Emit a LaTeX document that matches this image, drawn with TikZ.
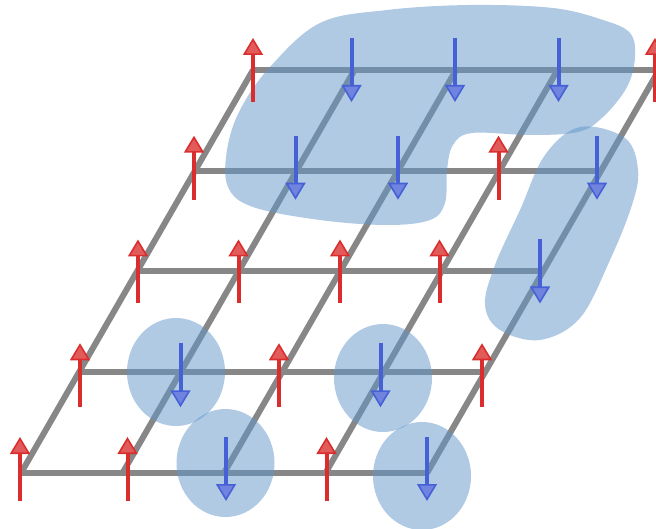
\documentclass[tikz,border=0pt]{standalone}
\usetikzlibrary{arrows.meta}
\definecolor{gridc}{RGB}{135,135,135}
\definecolor{spinred}{RGB}{218,45,45}
\definecolor{spinblue}{RGB}{70,96,214}
\definecolor{blobc}{RGB}{97,149,201}
\begin{document}
\begin{tikzpicture}[x=1pt,y=-1pt,
  gridline/.style={gridc, line width=6pt},
  blob/.style={fill=blobc, fill opacity=0.5, draw=none},
  spinup/.style={spinred, line width=4pt, -{Triangle[width=20pt, length=17pt, line width=1.6pt, fill=spinred!78!white]}},
  spindown/.style={spinblue, line width=4pt, -{Triangle[width=20pt, length=17pt, line width=1.6pt, fill=spinblue!78!white]}}]
\useasboundingbox (0,0) rectangle (656,529);
\foreach \i in {0,...,4}
  \foreach \j in {0,...,4}
    \coordinate (s\i\j) at ({21+101.5*\i+58*\j},{473-100.75*\j});
% lattice
\foreach \j in {0,...,4} \draw[gridline] (s0\j) -- (s4\j);
\foreach \i in {0,...,4} \draw[gridline] (s\i0) -- (s\i4);
% clusters
\fill[blob] plot[smooth cycle, tension=0.6] coordinates {
  (320,23) (387,10) (470,5) (553,8) (603,20) (630,33) (635,57) (627,87)
  (603,117) (578,132) (530,135) (472,133) (453,145) (447,170) (445,203)
  (430,220) (387,225) (320,220) (253,207) (228,187) (227,150) (240,110) (270,67)};
\fill[blob] plot[smooth cycle, tension=0.6] coordinates {
  (580,127) (625,138) (638,170) (632,205) (610,260) (580,318) (540,340)
  (500,330) (485,305) (495,265) (520,210) (545,155)};
\fill[blob] (176,372) ellipse [x radius=49, y radius=54];
\fill[blob] (225.5,463) ellipse [x radius=49, y radius=54];
\fill[blob] (383,378) ellipse [x radius=49, y radius=54];
\fill[blob] (422,476) ellipse [x radius=49, y radius=54];
% spins
\foreach \i/\j/\dx/\dy in {0/0/-1/-4, 1/0/5/-4, 3/0/1/-4,
    0/1/1/3, 2/1/-3/3, 4/1/-3/3,
    0/2/1/0, 1/2/0/0, 2/2/0/0, 3/2/-2/0,
    0/3/-1/-3, 3/3/-1/-3,
    0/4/0/0, 4/4/-4/0}
  \draw[spinup] ([shift={(\dx,\dy+32)}]s\i\j) -- ([shift={(\dx,\dy-32)}]s\i\j);
\foreach \i/\j/\dx/\dy in {2/0/2/-4, 4/0/0/-4,
    1/1/0/3, 3/1/-3/3,
    4/2/-3/0,
    1/3/-1/-3, 2/3/0/-3, 4/3/-4/-3,
    1/4/-3/0, 2/4/-1/0, 3/4/1/0}
  \draw[spindown] ([shift={(\dx,\dy-32)}]s\i\j) -- ([shift={(\dx,\dy+32)}]s\i\j);
\end{tikzpicture}
\end{document}
